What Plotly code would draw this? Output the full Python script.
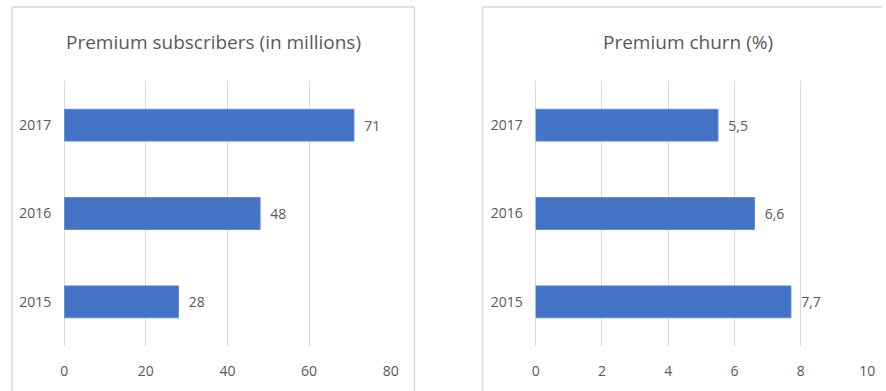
import plotly.graph_objects as go

years = ["2015", "2016", "2017"]
subscribers = [28, 48, 71]
churn = [7.7, 6.6, 5.5]
sub_ticks = [0, 20, 40, 60, 80]
churn_ticks = [0, 2, 4, 6, 8, 10]

W, H = 886, 391
GREY = "#595959"
BLUE = "#4472C4"
GRID = "#d9d9d9"
FONT = "Open Sans"
PAD = "\u00a0\u00a0"

def px(x):
    return x / W

def py(y):
    return 1 - y / H

fig = go.Figure()
fig.add_trace(go.Bar(
    y=years, x=subscribers, orientation="h", xaxis="x", yaxis="y",
    marker=dict(color=BLUE, line=dict(color="#5b8ad6", width=1)),
    text=[PAD + str(v) for v in subscribers], textposition="outside",
    textfont=dict(family=FONT, size=14, color=GREY), cliponaxis=False,
    hoverinfo="skip",
))
fig.add_trace(go.Bar(
    y=years, x=churn, orientation="h", xaxis="x2", yaxis="y2",
    marker=dict(color=BLUE, line=dict(color="#5b8ad6", width=1)),
    text=[PAD + str(v).replace(".", ",") for v in churn], textposition="outside",
    textfont=dict(family=FONT, size=14, color=GREY), cliponaxis=False,
    hoverinfo="skip",
))

ydom = [py(346), py(81)]
axis_common = dict(showgrid=True, gridcolor=GRID, gridwidth=1, zeroline=True,
                   zerolinecolor=GRID, zerolinewidth=1,
                   showline=False, ticks="", tickfont=dict(family=FONT, size=14, color=GREY),
                   ticklabelstandoff=15, fixedrange=True)
yaxis_common = dict(showgrid=False, zeroline=False, showline=False,
                    ticks="", tickfont=dict(family=FONT, size=14, color=GREY),
                    ticklabelstandoff=12, fixedrange=True)
fig.update_layout(
    width=W, height=H, margin=dict(l=0, r=0, t=0, b=0),
    paper_bgcolor="white", plot_bgcolor="white", showlegend=False,
    bargap=0.64,
    font=dict(family=FONT, color=GREY),
    xaxis=dict(domain=[px(61), px(392)], range=[0, 80], tickvals=sub_ticks,
               anchor="y", **axis_common),
    yaxis=dict(domain=ydom, anchor="x", **yaxis_common),
    xaxis2=dict(domain=[px(539), px(875)], range=[0, 10], tickvals=churn_ticks,
                anchor="y2", **axis_common),
    yaxis2=dict(domain=ydom, anchor="x2", **yaxis_common),
)

fig.add_annotation(text="Premium subscribers (in millions)", x=px(212), y=py(42),
                   xref="paper", yref="paper", showarrow=False,
                   font=dict(family=FONT, size=19, color=GREY), xanchor="center", yanchor="middle")
fig.add_annotation(text="Premium churn (%)", x=px(693), y=py(42),
                   xref="paper", yref="paper", showarrow=False,
                   font=dict(family=FONT, size=19, color=GREY), xanchor="center", yanchor="middle")

BORDER = "#d9d9d9"
lines = [
    (8, 7, 416, 7), (8, 7, 8, 395), (416, 7, 416, 395),
    (485, 7, 890, 7), (485, 7, 485, 395),
]
for x0, y0, x1, y1 in lines:
    fig.add_shape(type="line", xref="paper", yref="paper",
                  x0=px(x0), y0=py(y0), x1=px(x1), y1=py(y1),
                  line=dict(color=BORDER, width=1.5))

fig.write_html("out.html")
